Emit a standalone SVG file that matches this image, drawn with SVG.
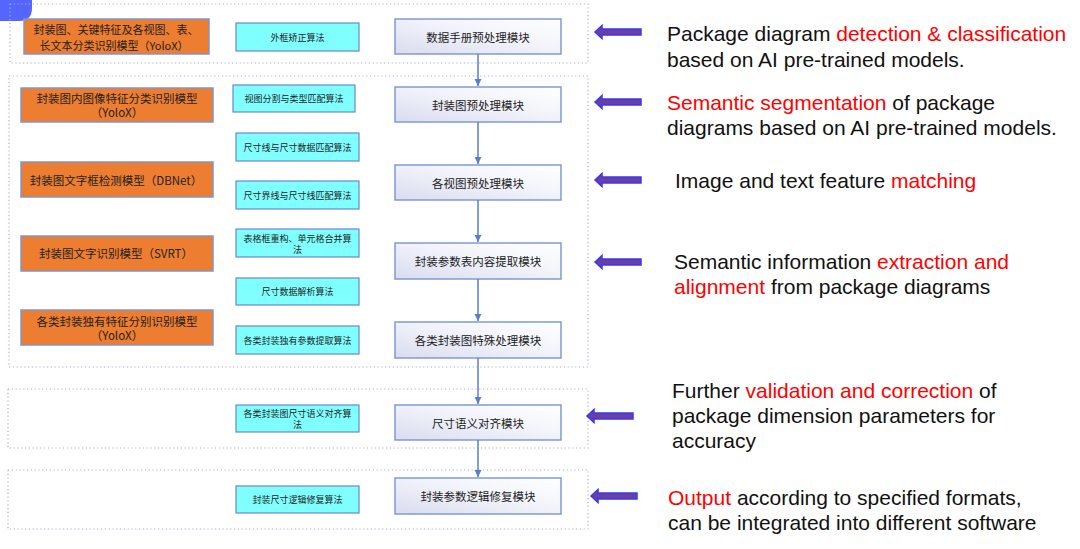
<svg xmlns="http://www.w3.org/2000/svg" width="1080" height="549" viewBox="0 0 1080 549">
<defs>
<linearGradient id="boxg" x1="0" y1="1" x2="1" y2="0">
<stop offset="0" stop-color="#d9dcef"/>
<stop offset="0.6" stop-color="#f4f5fb"/>
<stop offset="1" stop-color="#ffffff"/>
</linearGradient>
<marker id="ah" viewBox="0 0 10 10" refX="10" refY="5" markerWidth="5" markerHeight="5" orient="auto" markerUnits="strokeWidth">
<path d="M0,0 L10,5 L0,10 Z" fill="#5b7ec9"/>
</marker>
<path id="barrow" d="M0,0 L7,-6.5 L7,-3 L46,-3 L46,3 L7,3 L7,6.5 Z"/>
</defs>
<style>
.grp{fill:none;stroke:#a9b0d6;stroke-width:1.2;stroke-dasharray:1.2 2.6}
.org{fill:#ed7d31;stroke:#8494c8;stroke-width:1.5}
.cy{fill:#80ffff;stroke:#6c88c8;stroke-width:1.2}
.mod{fill:url(#boxg);stroke:#7f9bd3;stroke-width:1.5}
.ot{font-family:"Noto Sans CJK SC",sans-serif;font-size:11.5px;fill:#222;text-anchor:middle;dominant-baseline:central}
.ot1{font-size:11px}
.ct{font-family:"Noto Sans CJK SC",sans-serif;font-size:9px;fill:#222;text-anchor:middle;dominant-baseline:central}
.mt{font-family:"Noto Sans CJK SC",sans-serif;font-size:11.5px;fill:#222;text-anchor:middle;dominant-baseline:central}
.conn{stroke:#5b7ec9;stroke-width:1.5;fill:none}
.ba{fill:#6a3ea6;stroke:#3a3aea;stroke-width:1.5}
.rt{font-family:"Liberation Sans",Arial,sans-serif;font-size:21px;fill:#111}
.red{fill:#ff0000}
</style>
<rect width="1080" height="549" fill="#ffffff"/>
<path d="M0,0 H32 V8 Q32,21 19,21 H0 Z" fill="#5566ff"/>

<g id="groups">
<rect class="grp" x="10" y="4" width="578" height="59"/>
<rect class="grp" x="9" y="76" width="579" height="291"/>
<rect class="grp" x="8" y="389" width="580" height="59"/>
<rect class="grp" x="8" y="470" width="580" height="59"/>
</g>

<g id="models">
<g id="o1"><rect class="org" x="24" y="19" width="185" height="35"/><text class="ot ot1" x="116" y="29">封装图、关键特征及各视图、表、</text><text class="ot ot1" x="114" y="45">长文本分类识别模型（YoloX）</text></g>
<g id="o2"><rect class="org" x="21" y="88" width="192" height="34"/><text class="ot" x="117" y="98">封装图内图像特征分类识别模型</text><text class="ot" x="117" y="112">（YoloX）</text></g>
<g id="o3"><rect class="org" x="21" y="162" width="192" height="35"/><text class="ot" x="116" y="180">封装图文字框检测模型（DBNet）</text></g>
<g id="o4"><rect class="org" x="21" y="236" width="192" height="35"/><text class="ot" x="116" y="253">封装图文字识别模型（SVRT）</text></g>
<g id="o5"><rect class="org" x="21" y="310" width="192" height="35"/><text class="ot" x="117" y="321">各类封装独有特征分别识别模型</text><text class="ot" x="117" y="335">（YoloX）</text></g>
</g>

<g id="algos">
<g id="c1"><rect class="cy" x="236" y="23" width="123" height="28"/><text class="ct" x="297.5" y="37">外框矫正算法</text></g>
<g id="c2"><rect class="cy" x="233" y="85" width="122" height="27"/><text class="ct" x="294" y="98.5">视图分割与类型匹配算法</text></g>
<g id="c3"><rect class="cy" x="236" y="133" width="123" height="28"/><text class="ct" x="297.5" y="147">尺寸线与尺寸数据匹配算法</text></g>
<g id="c4"><rect class="cy" x="236" y="181" width="123" height="28"/><text class="ct" x="297.5" y="195">尺寸界线与尺寸线匹配算法</text></g>
<g id="c5"><rect class="cy" x="236" y="229" width="123" height="28"/><text class="ct" x="297.5" y="238.5">表格框重构、单元格合并算</text><text class="ct" x="297.5" y="249.5">法</text></g>
<g id="c6"><rect class="cy" x="236" y="278" width="123" height="27"/><text class="ct" x="297.5" y="291.5">尺寸数据解析算法</text></g>
<g id="c7"><rect class="cy" x="236" y="326" width="123" height="28"/><text class="ct" x="297.5" y="340">各类封装独有参数提取算法</text></g>
<g id="c8"><rect class="cy" x="236" y="405" width="123" height="27"/><text class="ct" x="297.5" y="413">各类封装图尺寸语义对齐算</text><text class="ct" x="297.5" y="424">法</text></g>
<g id="c9"><rect class="cy" x="236" y="486" width="123" height="27"/><text class="ct" x="297.5" y="499.5">封装尺寸逻辑修复算法</text></g>
</g>

<g id="modules">
<g id="m1"><rect class="mod" x="395" y="19" width="166" height="35"/><text class="mt" x="478" y="37">数据手册预处理模块</text></g>
<g id="m2"><rect class="mod" x="395" y="87" width="166" height="35"/><text class="mt" x="478" y="105">封装图预处理模块</text></g>
<g id="m3"><rect class="mod" x="395" y="165" width="166" height="35"/><text class="mt" x="478" y="183">各视图预处理模块</text></g>
<g id="m4"><rect class="mod" x="395" y="243" width="166" height="36"/><text class="mt" x="478" y="261">封装参数表内容提取模块</text></g>
<g id="m5"><rect class="mod" x="395" y="322" width="166" height="36"/><text class="mt" x="478" y="340">各类封装图特殊处理模块</text></g>
<g id="m6"><rect class="mod" x="395" y="405" width="166" height="35"/><text class="mt" x="478" y="423">尺寸语义对齐模块</text></g>
<g id="m7"><rect class="mod" x="395" y="478" width="166" height="36"/><text class="mt" x="478" y="496">封装参数逻辑修复模块</text></g>
</g>

<g id="connectors">
<line class="conn" x1="478" y1="54" x2="478" y2="86" marker-end="url(#ah)"/>
<line class="conn" x1="478" y1="122" x2="478" y2="164" marker-end="url(#ah)"/>
<line class="conn" x1="478" y1="200" x2="478" y2="242" marker-end="url(#ah)"/>
<line class="conn" x1="478" y1="279" x2="478" y2="321" marker-end="url(#ah)"/>
<line class="conn" x1="478" y1="358" x2="478" y2="404" marker-end="url(#ah)"/>
<line class="conn" x1="478" y1="440" x2="478" y2="477" marker-end="url(#ah)"/>
</g>

<g id="pointers">
<use href="#barrow" class="ba" x="595" y="32"/>
<use href="#barrow" class="ba" x="595" y="102"/>
<use href="#barrow" class="ba" x="595" y="180"/>
<use href="#barrow" class="ba" x="595" y="262"/>
<use href="#barrow" class="ba" x="587" y="416"/>
<use href="#barrow" class="ba" x="591" y="496"/>
</g>

<g id="descriptions">
<text class="rt" x="667" y="41">Package diagram <tspan class="red">detection &amp; classification</tspan></text>
<text class="rt" x="667" y="67">based on AI pre-trained models.</text>
<text class="rt" x="667" y="110"><tspan class="red">Semantic segmentation</tspan> of package</text>
<text class="rt" x="667" y="135">diagrams based on AI pre-trained models.</text>
<text class="rt" x="675" y="188">Image and text feature <tspan class="red">matching</tspan></text>
<text class="rt" x="674" y="269">Semantic information <tspan class="red">extraction and</tspan></text>
<text class="rt" x="674" y="294"><tspan class="red">alignment</tspan> from package diagrams</text>
<text class="rt" x="672" y="398">Further <tspan class="red">validation and correction</tspan> of</text>
<text class="rt" x="672" y="423">package dimension parameters for</text>
<text class="rt" x="672" y="448">accuracy</text>
<text class="rt" x="668" y="505"><tspan class="red">Output</tspan> according to specified formats,</text>
<text class="rt" x="668" y="530">can be integrated into different software</text>
</g>
</svg>
